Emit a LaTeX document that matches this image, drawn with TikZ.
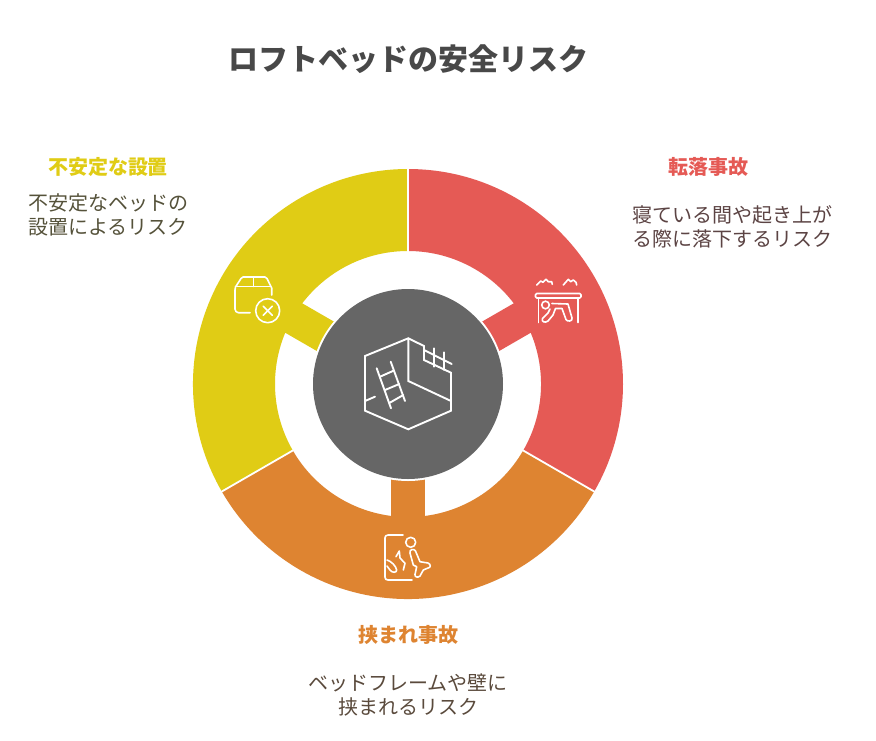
\documentclass[tikz,border=0pt]{standalone}
\usepackage{fontspec}
\setmainfont{Noto Sans CJK JP}
\usetikzlibrary{calc}
\definecolor{cyel}{HTML}{E0CC15}
\definecolor{cred}{HTML}{E55A55}
\definecolor{corg}{HTML}{DE8431}
\definecolor{cgry}{HTML}{666666}
\definecolor{ctitle}{HTML}{484848}
\definecolor{tyel}{HTML}{55523A}
\definecolor{tred}{HTML}{5C4444}
\definecolor{torg}{HTML}{5A4A3C}
\tikzset{
 x=1pt,y=-1pt,
 titletext/.style={font=\fontsize{30}{36}\selectfont\bfseries,text=ctitle,inner sep=0pt},
 headtext/.style={font=\fontsize{20}{24}\selectfont\bfseries,inner sep=0pt},
 bodytext/.style={font=\fontsize{20}{24}\selectfont,inner sep=0pt,align=center},
 icon/.style={draw=white,line width=1.6pt,line cap=round,line join=round,fill=none},
 iconthin/.style={draw=white,line width=1.9pt,line cap=round,line join=miter,fill=none},
 gapline/.style={draw=white,line width=1.8pt}
}
\newcommand{\seg}[3]{%
 \fill[#3] ($(C)+(#1:215pt)$) arc[start angle=#1,end angle=#2,radius=215pt]
   -- ($(C)+(#2:133pt)$) arc[start angle=#2,end angle=#1,radius=133pt] -- cycle;
 \pgfmathsetmacro{\midang}{(#1+#2)/2}
 \fill[#3,rotate around={\midang:(C)}] ($(C)+(0pt,17pt)$) rectangle ++(136pt,-34pt);
}
\begin{document}
\begin{tikzpicture}
\useasboundingbox (0,0) rectangle (876,740);
\fill[white] (0,0) rectangle (876,740);
\coordinate (C) at (408,384);
\seg{90}{-30}{cred}
\seg{-30}{-150}{corg}
\seg{210}{90}{cyel}
\draw[gapline] ($(C)+(90:130pt)$) -- ($(C)+(90:217pt)$);
\draw[gapline] ($(C)+(210:130pt)$) -- ($(C)+(210:217pt)$);
\draw[gapline] ($(C)+(330:130pt)$) -- ($(C)+(330:217pt)$);
\fill[white] (C) circle[radius=97pt];
\fill[cgry] (C) circle[radius=95pt];
% centre icon: room with ladder
\draw[iconthin] (408.3,338.3) -- (365,356) -- (365,410.7) -- (408.3,429.3) -- (451,410.7) -- (451,372.7) -- (424,360) -- (424,346) -- cycle;
\draw[iconthin] (408.3,338.3) -- (408.3,381) -- (451,401);
\draw[iconthin] (424,350) -- (451.7,364);
\draw[iconthin] (434,348.3) -- (434,366.7);
\draw[iconthin] (444,352.3) -- (444,370);
\draw[iconthin] (376.7,368.3) -- (391,408.3);
\draw[iconthin] (390.7,361.7) -- (405,401);
\draw[iconthin] (380,376.7) -- (394,370.5);
\draw[iconthin] (385,390) -- (399.3,384);
\draw[iconthin] (389.3,403) -- (403.3,395);
\draw[iconthin] (365,401) -- (375,396.7);
% red icon: person crawling under a table
\draw[icon,rounded corners=1.2pt] (535.5,293.5) rectangle (581,298);
\draw[icon] (538.5,298) -- (538.5,322.5);
\draw[icon] (578,298) -- (578,322.5);
\draw[icon] (536.7,285) -- (540.7,281) -- (543,282.3) -- (546,279.3) -- (548.3,281.7) -- (551.7,281.7) -- (552.3,284.3);
\draw[icon] (563.3,285) -- (568.3,279.3) -- (570.7,281.7) -- (573.3,280) -- (576,282.3) -- (576.7,285);
\draw[icon] (545.5,305) circle[radius=3.8pt];
\draw[icon] (552,303.5) -- (568,304) -- (572,318) .. controls (573,321.5) and (567,322) .. (566,319.5) -- (562,308.5) -- (555.5,308.5) -- (553,315) -- (548,321) .. controls (545,323.5) and (541,321.5) .. (542.5,318.5) -- (548,313) -- (550,309);
% orange icon: person falling by a door
\draw[icon] (403,535) -- (388,535) .. controls (386,535) and (385,536) .. (385,538) -- (385,577) .. controls (385,579) and (386,580) .. (388,580) -- (412,580);
\draw[icon] (410.7,542.3) circle[radius=5pt];
\draw[icon] (396,556.7) -- (399.3,551) -- (400,558) -- (405,563.3) -- (403.3,570);
\draw[icon] (387,560) .. controls (391,561) and (396,566) .. (396.7,570) .. controls (396.7,573) and (392,573) .. (390,570) -- (387,566);
\draw[icon] (410,553) .. controls (409,549.5) and (414,548) .. (415.5,551) -- (420,561.7) -- (428,563) .. controls (431,564) and (431,568) .. (428,568) -- (423.3,570) -- (420,576) .. controls (418,578) and (414.5,577) .. (415,574.5) -- (416.7,566.7) -- (413.3,565) -- cycle;
% yellow icon: box and cross
\draw[icon] (250,312.7) -- (238.5,312.7) .. controls (236.5,312.7) and (235,311) .. (235,309) -- (235,290) -- (235.5,287) -- (241,278.5) .. controls (241.5,277.5) and (242,277) .. (243,277) -- (265,277) .. controls (266,277) and (266.5,277.5) .. (267,278.5) -- (271.7,288) -- (271.7,295);
\draw[icon] (235.5,286.5) -- (270.5,286.5);
\draw[icon] (253.3,277) -- (253.3,286.5);
\draw[icon] (267.7,310.7) circle[radius=12pt];
\draw[icon] (263.3,306.2) -- (272.3,315.2);
\draw[icon] (272.3,306.2) -- (263.3,315.2);
% texts
\node[titletext] (title) at (408,59) {ロフトベッドの安全リスク};
\node[headtext,text=cyel] (hyel) at (108,167) {不安定な設置};
\node[bodytext,text=tyel] (byel) at (108,215) {不安定なベッドの\\設置によるリスク};
\node[headtext,text=cred] (hred) at (708.5,167) {転落事故};
\node[bodytext,text=tred] (bred) at (732.5,227) {寝ている間や起き上が\\る際に落下するリスク};
\node[headtext,text=corg] (horg) at (408,635) {挟まれ事故};
\node[bodytext,text=torg] (borg) at (408,695.5) {ベッドフレームや壁に\\挟まれるリスク};
\end{tikzpicture}
\end{document}
